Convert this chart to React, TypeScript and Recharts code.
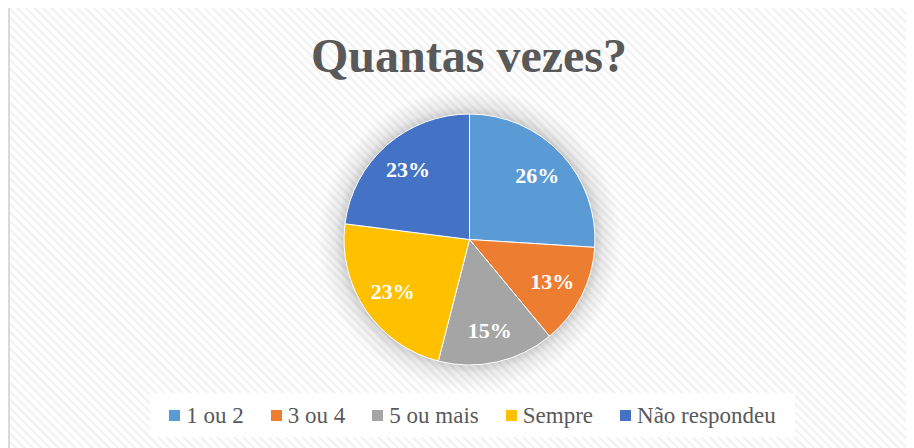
import { PieChart, Pie, Cell, Legend } from "recharts";

const categories = ["1 ou 2", "3 ou 4", "5 ou mais", "Sempre", "Não respondeu"];
const shares = [26, 13, 15, 23, 23];
const colors = ["#5B9BD5", "#ED7D31", "#A5A5A5", "#FFC000", "#4472C4"];

const data = categories.map((name, i) => ({ name, value: shares[i] }));

const SERIF = "'Liberation Serif', 'Times New Roman', serif";
const RAD = Math.PI / 180;

const renderLabel = (props: any) => {
  const { cx, cy, midAngle, outerRadius, percent } = props;
  const r = outerRadius * 0.74;
  const x = cx + r * Math.cos(-midAngle * RAD);
  const y = cy + r * Math.sin(-midAngle * RAD);
  return (
    <text
      x={x}
      y={y}
      fill="#ffffff"
      textAnchor="middle"
      dominantBaseline="central"
      style={{ fontFamily: SERIF, fontWeight: "bold", fontSize: 22 }}
    >
      {`${Math.round(percent * 100)}%`}
    </text>
  );
};

// legend built straight from the arrays so the order stays as in the data
const renderLegend = () => (
  <div
    style={{
      display: "flex",
      justifyContent: "center",
      alignItems: "center",
      height: "100%",
      background: "#ffffff",
      fontFamily: SERIF,
      fontSize: 23,
      color: "#595959",
    }}
  >
    {categories.map((name, i) => (
      <div
        key={`leg-${i}`}
        style={{
          display: "flex",
          alignItems: "center",
          marginLeft: i === 0 ? 0 : 27,
        }}
      >
        <span
          style={{
            display: "inline-block",
            width: 11,
            height: 11,
            background: colors[i],
            marginRight: 6,
          }}
        />
        <span style={{ lineHeight: "23px" }}>{name}</span>
      </div>
    ))}
  </div>
);

export default function App() {
  return (
    <div
      style={{
        position: "relative",
        marginTop: -3,
        width: 920,
        height: 450,
        borderTop: "2px solid #d9d9d9",
        borderLeft: "2px solid #d9d9d9",
        background:
          "repeating-linear-gradient(45deg, #ffffff 0px, #ffffff 3.5px, #f3f3f3 3.5px, #f3f3f3 6px)",
        overflow: "hidden",
      }}
    >
      <div
        style={{
          position: "absolute",
          left: 0,
          top: 0,
          width: 920,
          height: 450,
          background:
            "radial-gradient(circle at 459.5px 232.5px, rgba(0,0,0,0.22) 122px, rgba(0,0,0,0.08) 134px, rgba(0,0,0,0) 152px)",
        }}
      />
      <div
        style={{
          position: "absolute",
          left: 0,
          top: 25,
          width: 918,
          textAlign: "center",
          fontFamily: SERIF,
          fontWeight: "bold",
          fontSize: 48,
          lineHeight: "48px",
          color: "#595959",
        }}
      >
        Quantas vezes?
      </div>
      <div style={{ position: "absolute", left: 0, top: 0 }}>
        <PieChart
          width={904}
          height={441}
          margin={{ top: 0, right: 0, bottom: 0, left: 0 }}
        >
          <Pie
            data={data}
            dataKey="value"
            nameKey="name"
            cx={459.5}
            cy={232.5}
            outerRadius={125.5}
            startAngle={90}
            endAngle={-270}
            stroke="#ffffff"
            strokeWidth={1}
            label={renderLabel}
            labelLine={false}
            isAnimationActive={false}
          >
            {data.map((entry, index) => (
              <Cell key={`cell-${entry.name}`} fill={colors[index]} />
            ))}
          </Pie>
          <Legend
            content={renderLegend}
            wrapperStyle={{ left: 140, top: 386, width: 645, height: 44 }}
          />
        </PieChart>
      </div>
    </div>
  );
}
